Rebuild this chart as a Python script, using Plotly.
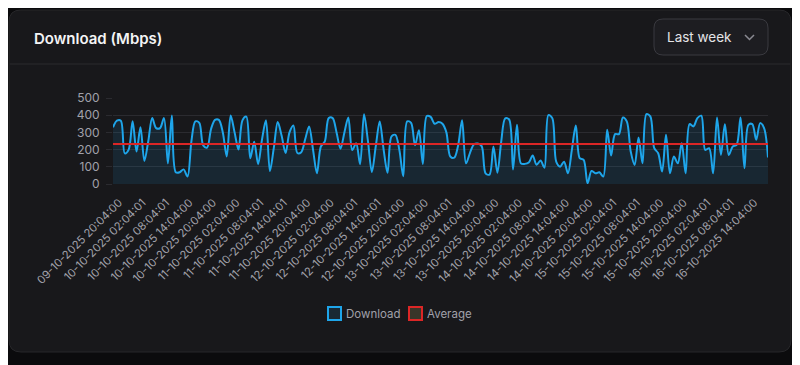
import plotly.graph_objects as go

# ---------------- data ----------------
tick_labels = [
    "09-10-2025 20:04:00", "10-10-2025 02:04:01", "10-10-2025 08:04:01", "10-10-2025 14:04:00",
    "10-10-2025 20:04:00", "11-10-2025 02:04:00", "11-10-2025 08:04:01", "11-10-2025 14:04:01",
    "11-10-2025 20:04:00", "12-10-2025 02:04:00", "12-10-2025 08:04:01", "12-10-2025 14:04:01",
    "12-10-2025 20:04:00", "13-10-2025 02:04:00", "13-10-2025 08:04:01", "13-10-2025 14:04:00",
    "13-10-2025 20:04:00", "14-10-2025 02:04:00", "14-10-2025 08:04:01", "14-10-2025 14:04:00",
    "14-10-2025 20:04:00", "15-10-2025 02:04:01", "15-10-2025 08:04:01", "15-10-2025 14:04:00",
    "15-10-2025 20:04:00", "16-10-2025 02:04:01", "16-10-2025 08:04:01", "16-10-2025 14:04:00",
]
tick_every = 6  # one label every 6 hourly samples

download = [
    330, 368, 368, 178, 200, 365, 189, 330, 134, 250,
    383, 325, 325, 383, 120, 398, 68, 68, 85, 43,
    250, 364, 355, 225, 212, 320, 373, 373, 300, 160,
    398, 300, 200, 370, 392, 150, 245, 115, 260, 370,
    75, 210, 360, 280, 180, 300, 340, 180, 185, 260,
    335, 200, 62, 218, 247, 383, 383, 300, 205, 300,
    387, 198, 237, 115, 406, 250, 70, 220, 364, 200,
    65, 276, 286, 200, 45, 364, 355, 225, 312, 117,
    395, 390, 350, 360, 350, 300, 160, 153, 225, 370,
    120, 180, 230, 235, 220, 62, 55, 218, 66, 250,
    382, 375, 85, 345, 120, 117, 125, 165, 112, 136,
    95, 400, 383, 130, 101, 130, 62, 200, 340, 150,
    140, 4, 76, 62, 68, 43, 315, 165, 290, 290,
    387, 364, 189, 111, 270, 120, 406, 393, 208, 179,
    72, 286, 62, 160, 120, 237, 62, 348, 335, 383,
    397, 198, 208, 62, 387, 169, 348, 169, 218, 228,
    387, 91, 344, 348, 257, 354, 325, 154,
]
average_value = 233
y_ticks = [0, 100, 200, 300, 400, 500]

# ---------------- styling ----------------
W, H = 800, 365
OFF = 8  # the page body adds an 8px margin; compensate
L_PX, R_PX, T_PX, B_PX = 113 - OFF, 768 - OFF, 98 - OFF, 184 - OFF  # plot area (figure px)
OUTER_BG = "#0b0b0d"
CARD_BG = "#18181b"
CARD_BORDER = "#27272a"
GRID = "#2b2b30"
TEXT_MUTED = "#a1a1aa"
BLUE = "#1ea5ea"
RED = "#dc2626"
FONT = "Inter, Roboto, 'Noto Sans', sans-serif"


def px(x, y):
    """screen pixel (reference coords) -> paper coordinates"""
    x -= OFF
    y -= OFF
    return (x - L_PX) / (R_PX - L_PX), (B_PX - y) / (B_PX - T_PX)


def rrect_path(x0, y0, x1, y1, r):
    pts = [
        ("M", [(x0 + r, y0)]), ("L", [(x1 - r, y0)]), ("Q", [(x1, y0), (x1, y0 + r)]),
        ("L", [(x1, y1 - r)]), ("Q", [(x1, y1), (x1 - r, y1)]), ("L", [(x0 + r, y1)]),
        ("Q", [(x0, y1), (x0, y1 - r)]), ("L", [(x0, y0 + r)]), ("Q", [(x0, y0), (x0 + r, y0)]),
    ]
    s = ""
    for cmd, coords in pts:
        s += cmd + " ".join("%.5f,%.5f" % px(a, b) for a, b in coords) + " "
    return s + "Z"


x_idx = list(range(len(download)))
tick_vals = [i * tick_every for i in range(len(tick_labels))]

fig = go.Figure()
fig.add_trace(go.Scatter(
    x=x_idx, y=download, mode="lines", name="Download",
    line=dict(color=BLUE, width=2, shape="spline", smoothing=0.9),
    fill="tozeroy", fillcolor="rgba(30,165,234,0.11)", showlegend=False,
    hoverinfo="skip",
))
fig.add_trace(go.Scatter(
    x=[x_idx[0], x_idx[-1]], y=[average_value, average_value], mode="lines", name="Average",
    line=dict(color=RED, width=2), showlegend=False, hoverinfo="skip",
))

shapes = []
# outer background (covers the whole page area)
a = px(0, 0)
b = px(820, 380)
shapes.append(dict(type="rect", xref="paper", yref="paper", layer="below",
                   x0=a[0], y0=a[1], x1=b[0], y1=b[1], fillcolor=OUTER_BG, line=dict(width=0)))
# card
shapes.append(dict(type="path", xref="paper", yref="paper", layer="below",
                   path=rrect_path(9, 10, 791, 352, 12),
                   fillcolor=CARD_BG, line=dict(color=CARD_BORDER, width=1)))
# header separator
x0p, y0p = px(9.5, 64)
x1p, _ = px(790.5, 64)
shapes.append(dict(type="line", xref="paper", yref="paper", layer="below",
                   x0=x0p, x1=x1p, y0=y0p, y1=y0p, line=dict(color="#2a2a2f", width=1)))
# dropdown
shapes.append(dict(type="path", xref="paper", yref="paper", layer="below",
                   path=rrect_path(654, 19, 768, 55, 9),
                   fillcolor="#1d1d21", line=dict(color="#3a3a40", width=1)))
# chevron
c = [px(745, 35), px(749.5, 39.5), px(754, 35)]
shapes.append(dict(type="path", xref="paper", yref="paper",
                   path="M%.5f,%.5f L%.5f,%.5f L%.5f,%.5f" % (c[0] + c[1] + c[2]),
                   line=dict(color="#8a8a92", width=1.5)))
# legend boxes
for (bx, col, fillc) in [(328, BLUE, "rgba(30,165,234,0.12)"), (409, RED, "rgba(120,110,70,0.35)")]:
    a = px(bx, 307)
    b = px(bx + 13, 320)
    shapes.append(dict(type="rect", xref="paper", yref="paper",
                       x0=a[0], y0=a[1], x1=b[0], y1=b[1],
                       fillcolor=fillc, line=dict(color=col, width=2)))

annotations = []
tx, ty = px(32, 38)
annotations.append(dict(text="Download (Mbps)", xref="paper", yref="paper", x=tx, y=ty,
                        xanchor="left", yanchor="middle", showarrow=False,
                        font=dict(family=FONT, size=15, color="#f4f4f5", weight=600)))
tx, ty = px(665, 37)
annotations.append(dict(text="Last week", xref="paper", yref="paper", x=tx, y=ty,
                        xanchor="left", yanchor="middle", showarrow=False,
                        font=dict(family=FONT, size=13.5, color="#e4e4e7")))
for (lx, label) in [(344, "Download"), (425, "Average")]:
    tx, ty = px(lx, 313.5)
    annotations.append(dict(text=label, xref="paper", yref="paper", x=tx, y=ty,
                            xanchor="left", yanchor="middle", showarrow=False,
                            font=dict(family=FONT, size=11.5, color=TEXT_MUTED)))

fig.update_layout(
    width=W, height=H, autosize=False,
    margin=dict(l=L_PX, r=W - R_PX, t=T_PX, b=H - B_PX, pad=0),
    paper_bgcolor=OUTER_BG, plot_bgcolor="rgba(0,0,0,0)",
    font=dict(family=FONT, color=TEXT_MUTED),
    shapes=shapes, annotations=annotations, showlegend=False,
    xaxis=dict(range=[0, len(download) - 1], tickmode="array", tickvals=tick_vals,
               ticktext=tick_labels, tickangle=-45, showgrid=False, zeroline=False,
               showline=False, ticks="", tickfont=dict(size=11.2, color=TEXT_MUTED),
               ticklabelstandoff=9, ticklabelshift=6, fixedrange=True),
    yaxis=dict(range=[0, 500], tickmode="array", tickvals=y_ticks, showgrid=True,
               gridcolor=GRID, gridwidth=1, zeroline=False, showline=False,
               ticks="outside", ticklen=6, tickcolor=GRID,
               tickfont=dict(size=12, color=TEXT_MUTED), ticklabelstandoff=4,
               fixedrange=True),
)

fig.write_html("out.html")
